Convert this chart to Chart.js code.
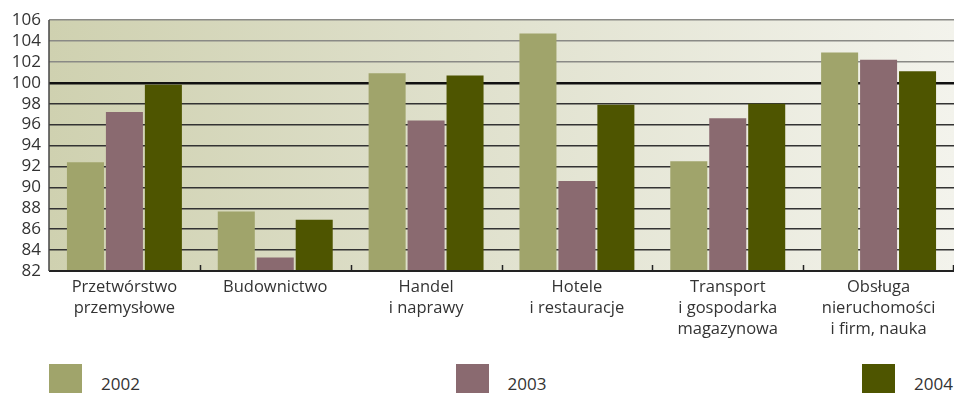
<!DOCTYPE html>
<html>
<head>
<meta charset="utf-8">
<script src="https://cdn.jsdelivr.net/npm/chart.js@4"></script>
<style>
  body { margin: 0; background: #fff; font-family: "Open Sans", sans-serif; }
  #wrap { position: relative; width: 954px; height: 393px; overflow: hidden; }
  #box { position: absolute; left: 0; top: 0; width: 954px; height: 350px; }
  #legend { position: absolute; left: 49px; right: 1px; top: 364px; display: flex; justify-content: space-between; }
  .item { display: flex; align-items: flex-start; }
  .sw { width: 33px; height: 33px; }
  .lbl { margin-left: 19px; margin-top: 8px; font-size: 17px; color: #333; }
</style>
</head>
<body>
<div id="wrap">
  <div id="box"><canvas id="myChart"></canvas></div>
  <div id="legend"></div>
</div>
<script>
const categories = [
  ['Przetwórstwo', 'przemysłowe'],
  'Budownictwo',
  ['Handel', 'i naprawy'],
  ['Hotele', 'i restauracje'],
  ['Transport', 'i gospodarka', 'magazynowa'],
  ['Obsługa', 'nieruchomości', 'i firm, nauka']
];
const years = ['2002', '2003', '2004'];
const values2002 = [92.4, 87.7, 100.9, 104.7, 92.5, 102.9];
const values2003 = [97.2, 83.3, 96.4, 90.6, 96.6, 102.2];
const values2004 = [99.8, 86.9, 100.7, 97.9, 98.0, 101.1];
const yTicks = [82, 84, 86, 88, 90, 92, 94, 96, 98, 100, 102, 104, 106];

const colors = ['#a0a46b', '#8a6a70', '#4e5500'];

const data = {
  labels: categories,
  datasets: [values2002, values2003, values2004].map((v, i) => ({
    label: years[i],
    data: v,
    backgroundColor: colors[i],
    borderWidth: 0,
    categoryPercentage: 0.775,
    barPercentage: 0.95
  }))
};

// gradient behind the plot area
const bgPlugin = {
  id: 'bg',
  beforeDraw(chart) {
    const a = chart.chartArea, ctx = chart.ctx;
    const g = ctx.createLinearGradient(a.left, 0, a.right, 0);
    g.addColorStop(0, '#cfd1b0');
    g.addColorStop(0.5, '#e1e2cf');
    g.addColorStop(1, '#f3f3ec');
    ctx.save();
    ctx.fillStyle = g;
    ctx.fillRect(a.left, a.top, a.right - a.left, a.bottom - a.top);
    ctx.restore();
  }
};

// small ticks between categories and the axis lines
const tickPlugin = {
  id: 'catTicks',
  afterDatasetsDraw(chart) {
    const x = chart.scales.x, ctx = chart.ctx;
    const a = chart.chartArea;
    ctx.save();
    ctx.strokeStyle = '#222';
    ctx.lineWidth = 1.5;
    const n = chart.data.labels.length;
    for (let i = 1; i <= n; i++) {
      const px = i < n ? (x.getPixelForTick(i - 1) + x.getPixelForTick(i)) / 2 : a.right - 1;
      ctx.beginPath();
      ctx.moveTo(Math.round(px) + 0.5, a.bottom);
      ctx.lineTo(Math.round(px) + 0.5, a.bottom - 6);
      ctx.stroke();
    }
    ctx.lineWidth = 2;
    ctx.beginPath();
    ctx.moveTo(a.left, a.bottom);
    ctx.lineTo(a.right, a.bottom);
    ctx.stroke();
    ctx.strokeStyle = '#444';
    ctx.lineWidth = 1.5;
    ctx.beginPath();
    ctx.moveTo(a.left, a.top);
    ctx.lineTo(a.left, a.bottom);
    ctx.stroke();
    ctx.restore();
  }
};

const conf = {
  type: 'bar',
  data: data,
  options: {
    responsive: true,
    maintainAspectRatio: false,
    animation: false,
    layout: { padding: { top: 20, right: 0, left: 0, bottom: 0 } },
    plugins: {
      legend: { display: false },
      tooltip: { enabled: false }
    },
    scales: {
      x: {
        grid: { display: false, drawTicks: false },
        border: { display: false },
        ticks: {
          color: '#333',
          font: { family: 'Open Sans', size: 16.5, lineHeight: 1.27 },
          padding: 6,
          maxRotation: 0,
          autoSkip: false
        },
        afterFit: s => { s.height = 79; }
      },
      y: {
        min: 82,
        max: 106,
        afterBuildTicks: s => { s.ticks = yTicks.map(v => ({ value: v })); },
        grid: {
          drawTicks: false,
          color: c => c.tick.value === 100 ? '#111' : (c.tick.value > 98 ? '#8a8a86' : '#333'),
          lineWidth: c => c.tick.value === 100 ? 2.5 : 1.5
        },
        border: { display: false },
        ticks: {
          color: '#333',
          font: { family: 'Open Sans', size: 17 },
          padding: 8,
          autoSkip: false
        },
        afterFit: s => { s.width = 49; }
      }
    }
  },
  plugins: [bgPlugin, tickPlugin]
};

const myChart = new Chart(document.getElementById('myChart'), conf);

const legend = document.getElementById('legend');
data.datasets.forEach(ds => {
  const it = document.createElement('div');
  it.className = 'item';
  it.innerHTML = '<div class="sw" style="background:' + ds.backgroundColor + '"></div><div class="lbl">' + ds.label + '</div>';
  legend.appendChild(it);
});
</script>
</body>
</html>
